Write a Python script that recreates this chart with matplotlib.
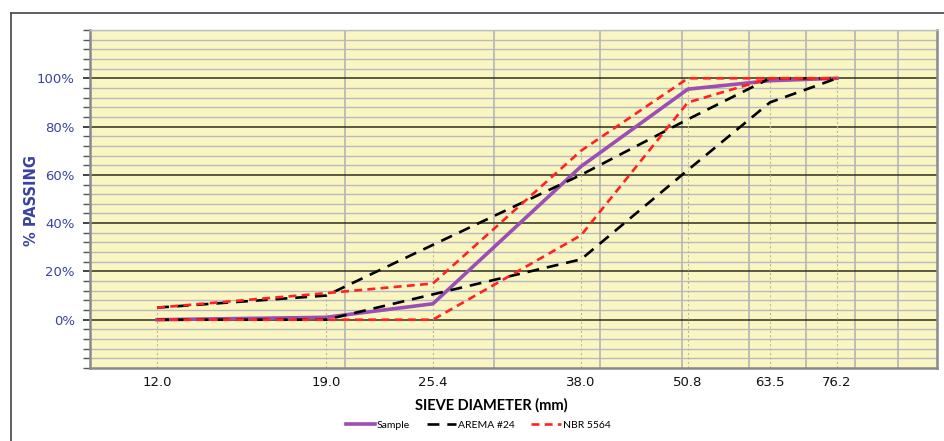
import matplotlib
matplotlib.use('Agg')
import matplotlib.pyplot as plt
from matplotlib.lines import Line2D
from matplotlib.ticker import FixedLocator, NullFormatter

# sieve sizes (mm) and % passing
sieves = [12.0, 19.0, 25.4, 38.0, 50.8, 63.5, 76.2]
sieve_labels = ['12.0', '19.0', '25.4', '38.0', '50.8', '63.5', '76.2']
sample = [0, 1, 6.6, 63.5, 95.5, 99, 100]
arema_upper = [5, 10, 31, 60, 83, 100, 100]
arema_lower = [0, 0, 10.5, 25, 62, 90, 100]
nbr_upper = [5, 11, 15, 70, 100, 100, 100]
nbr_lower = [0, 0, 0, 35, 90, 100, 100]
y_labels = ['0%', '20%', '40%', '60%', '80%', '100%']

fig = plt.figure(figsize=(9.44, 4.41), dpi=100)
ax = fig.add_axes([90 / 944, 73 / 441, 847 / 944, 338 / 441])
ax.set_facecolor('#faf6c2')

# outer frame (only left and top edges show in the picture)
fig.add_artist(Line2D([11 / 944, 11 / 944], [0, 1 - 13 / 441], color='#444444', lw=1.2))
fig.add_artist(Line2D([11 / 944, 1], [1 - 13 / 441, 1 - 13 / 441], color='#444444', lw=1.2))

ax.set_xscale('log')
ax.set_xlim(10, 100)
ax.set_ylim(-20, 120)

# x ticks: labels at the sieves, grid on 20..90
ax.xaxis.set_major_locator(FixedLocator(sieves))
ax.set_xticklabels(sieve_labels)
ax.xaxis.set_minor_locator(FixedLocator([20, 30, 40, 50, 60, 70, 80, 90]))
ax.xaxis.set_minor_formatter(NullFormatter())
ax.tick_params(axis='x', which='both', length=0, pad=6, labelsize=9.5, labelcolor='#111111')
ax.grid(which='minor', axis='x', color='#b4b4b4', lw=1.2)

# y ticks
ax.yaxis.set_major_locator(FixedLocator([0, 20, 40, 60, 80, 100]))
ax.set_yticklabels(y_labels)
ax.yaxis.set_minor_locator(FixedLocator(list(range(-20, 121, 4))))
ax.tick_params(axis='y', which='major', length=5, width=1.2, color='#222222',
               labelsize=9.5, labelcolor='#3b41a3', pad=6)
ax.tick_params(axis='y', which='minor', length=5, width=1, color='#555555')
ax.grid(which='minor', axis='y', color='#b9b9c4', lw=1.0)
ax.grid(which='major', axis='y', color='#2e2e1e', lw=1.1)
ax.set_axisbelow(True)

for side in ['left', 'bottom', 'right']:
    ax.spines[side].set_color('#8a8a8a')
    ax.spines[side].set_linewidth(1.8)
ax.spines['top'].set_color('#bdbdbd')
ax.spines['top'].set_linewidth(1.0)

# drop lines from the highest value down to the axis
for i, x in enumerate(sieves):
    top = max(sample[i], arema_upper[i], arema_lower[i], nbr_upper[i], nbr_lower[i])
    ax.plot([x, x], [-20, top], color='#bdb8a0', lw=0.8, ls=(0, (2, 2)), zorder=1)

ax.plot(sieves, sample, color='#9b4fb4', lw=2.6, label='Sample', zorder=3)
ax.plot(sieves, arema_upper, color='black', lw=1.9, ls=(0, (4.5, 3)), label='AREMA #24', zorder=4)
ax.plot(sieves, arema_lower, color='black', lw=1.9, ls=(0, (4.5, 3)), zorder=4)
ax.plot(sieves, nbr_upper, color='#ff2222', lw=1.9, ls=(0, (3, 2)), label='NBR 5564', zorder=5)
ax.plot(sieves, nbr_lower, color='#ff2222', lw=1.9, ls=(0, (3, 2)), zorder=5)

ax.set_xlabel('SIEVE DIAMETER (mm)', fontsize=10.5, fontweight='bold', family='Lato', va='center')
ax.xaxis.set_label_coords(0.474, -0.109)
ax.set_ylabel('% PASSING', fontsize=10.5, fontweight='bold', color='#3b41a3', va='center')
ax.yaxis.set_label_coords(-0.0685, 0.497)

handles, labels = ax.get_legend_handles_labels()
fig.legend(handles, labels, loc='center', bbox_to_anchor=(478 / 944, 1 - 425 / 441), ncol=3,
           frameon=False, prop={'family': 'Lato', 'size': 7.5}, handlelength=2.8,
           columnspacing=1.6, handletextpad=0.2, borderpad=0)

fig.savefig('out.png', dpi=100)
